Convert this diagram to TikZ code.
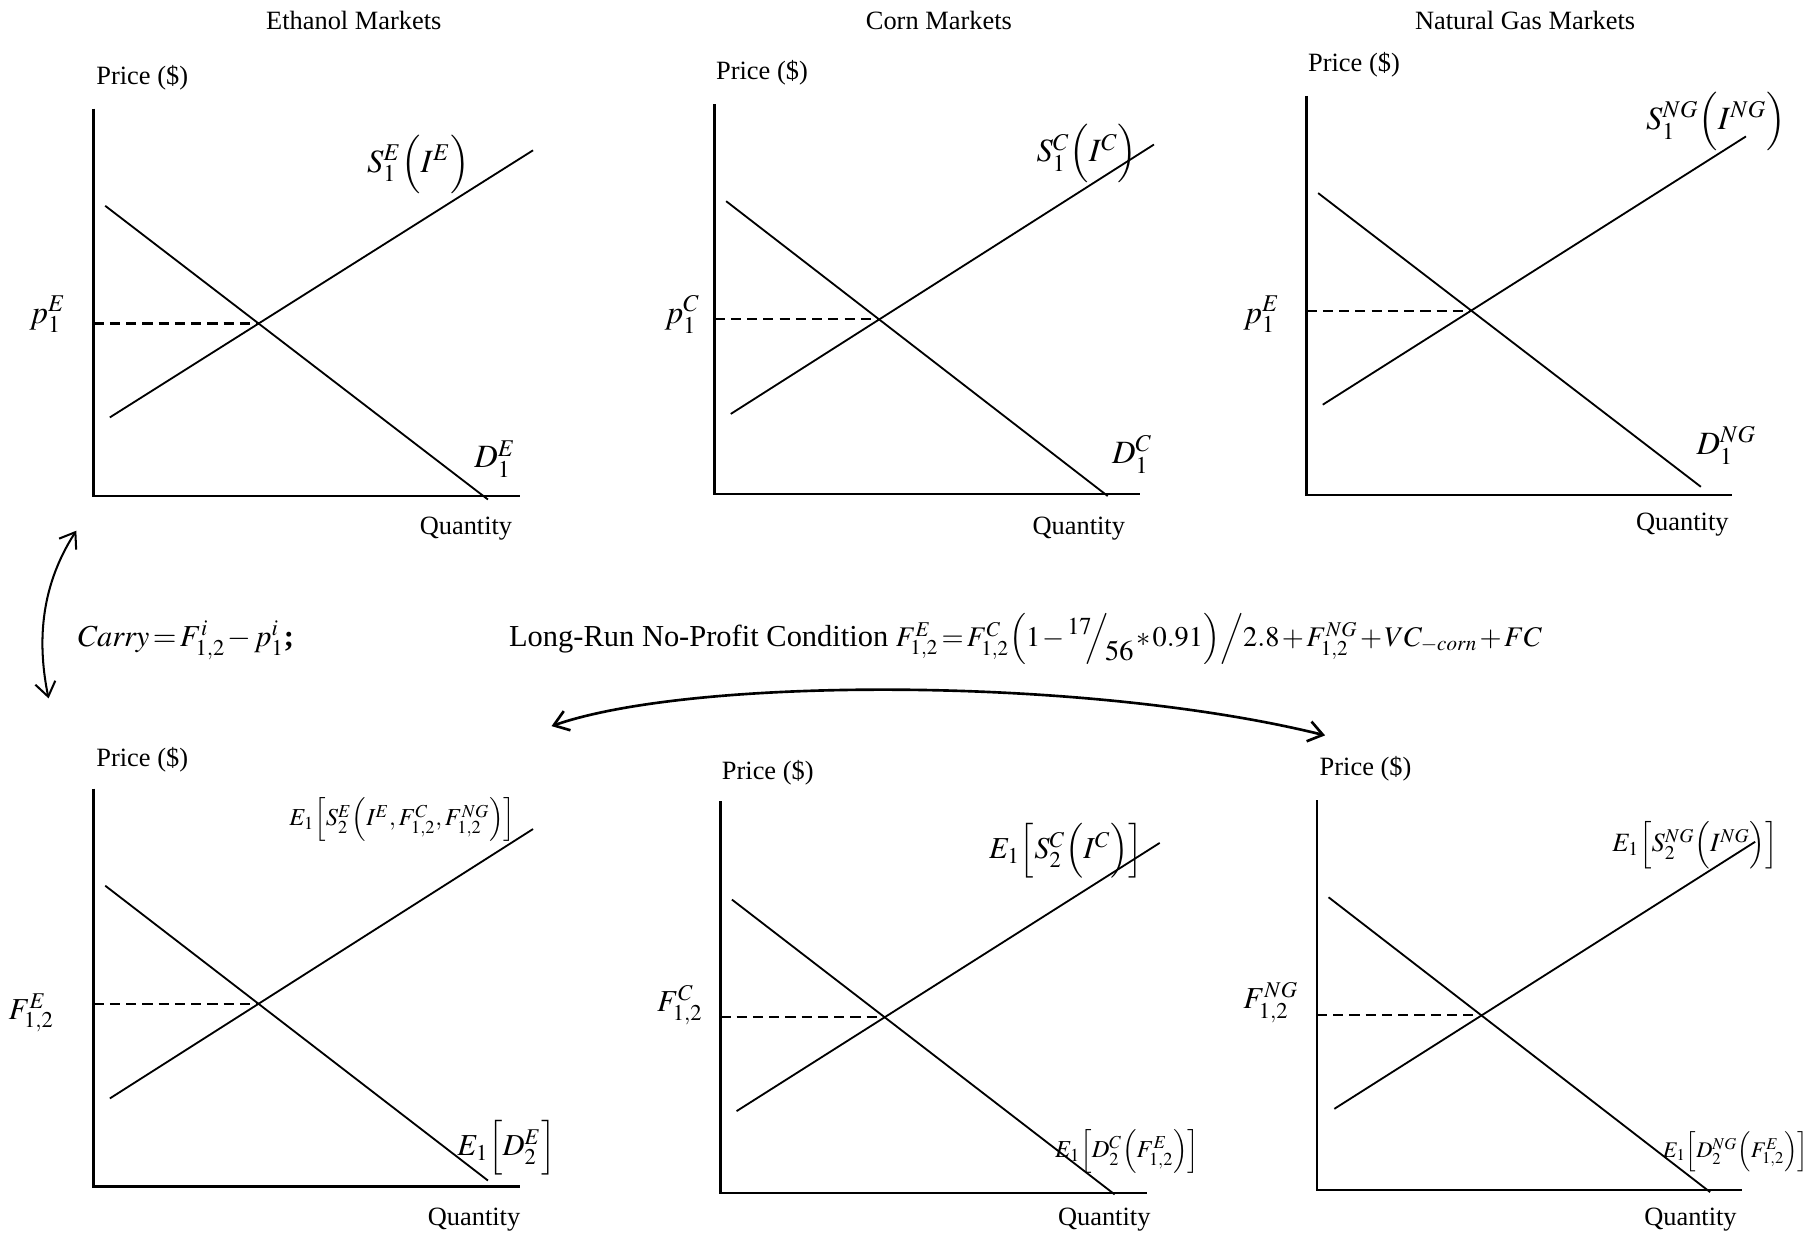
\documentclass[tikz,border=0pt]{standalone}
\usepackage{mathptmx}
\usepackage{fontspec}
\setmainfont{Liberation Serif}
\usetikzlibrary{intersections, arrows.meta}
\newcommand\tightmath{\thickmuskip=2mu\relax\medmuskip=1.5mu\relax}

\begin{document}
\begin{tikzpicture}[x=0.02cm, y=-0.02cm,
  font=\fontsize{13}{15}\selectfont,
  axis/.style={line width=1.2pt},
  curve/.style={line width=0.9pt},
  guide/.style={line width=1pt, dash pattern=on 5pt off 3pt},
  lbl/.style={inner sep=0pt},
  mlbl/.style={inner sep=0pt, font=\fontsize{16}{18}\selectfont},
  small/.style={inner sep=0pt, font=\fontsize{12}{14}\selectfont},
  big/.style={inner sep=0pt, font=\fontsize{15}{18}\selectfont},
  arrow/.style={{Straight Barb[length=7pt, width=10pt]}-{Straight Barb[length=7pt, width=10pt]}, line width=1pt}
]
\useasboundingbox (0,0) rectangle (1568,1071);

\coordinate (o1) at (81,429);
\draw[axis] (81,94) -- (o1) -- (450,429);
\draw[curve, name path=d1] (91,178) -- (422,432);
\draw[curve, name path=s1] (95,361) -- (461,130);
\path[name intersections={of=d1 and s1, by=q1}];
\draw[guide] (o1 |- q1) -- (q1);
\node[lbl] (title1) at (306,18) {Ethanol Markets};
\node[lbl] (price1) at (123,67) {Price (\$)};
\node[lbl] (qty1) at (403,457) {Quantity};
\node[mlbl] (p1) at (41,272) {$p_1^E$};
\node[mlbl] (sup1) at (362,142) {$S_1^E\Big(I^E\Big)$};
\node[mlbl] (dem1) at (428,397) {$D_1^E$};

\coordinate (o2) at (618,427);
\draw[axis] (618,90) -- (o2) -- (986,427);
\draw[curve, name path=d2] (628,174) -- (958,429);
\draw[curve, name path=s2] (632,358) -- (998,125);
\path[name intersections={of=d2 and s2, by=q2}];
\draw[guide] (o2 |- q2) -- (q2);
\node[lbl] (title2) at (812,18) {Corn Markets};
\node[lbl] (price2) at (659,63) {Price (\$)};
\node[lbl] (qty2) at (933,457) {Quantity};
\node[mlbl] (p2) at (590,272) {$p_1^C$};
\node[mlbl] (sup2) at (940,133) {$S_1^C\Big(I^C\Big)$};
\node[mlbl] (dem2) at (979,393) {$D_1^C$};

\coordinate (o3) at (1130,428);
\draw[axis] (1130,83) -- (o3) -- (1498,428);
\draw[curve, name path=d3] (1140,167) -- (1471,421);
\draw[curve, name path=s3] (1144,350) -- (1510,118);
\path[name intersections={of=d3 and s3, by=q3}];
\draw[guide] (o3 |- q3) -- (q3);
\node[lbl] (title3) at (1319,18) {Natural Gas Markets};
\node[lbl] (price3) at (1171,56) {Price (\$)};
\node[lbl] (qty3) at (1455,454) {Quantity};
\node[mlbl] (p3) at (1091,272) {$p_1^E$};
\node[mlbl] (sup3) at (1484,105) {$S_1^{NG}\Big(I^{NG}\Big)$};
\node[mlbl] (dem3) at (1493,385) {$D_1^{NG}$};

\coordinate (carrytop) at (66,459);
\coordinate (carrybot) at (42,604);
\draw[arrow] (carrytop) .. controls (33,510) and (33,560) .. (carrybot);
\node[big, anchor=west] (carry) at (66,554) {$\tightmath\mathit{Carry}=F_{1,2}^i-p_1^i$\textbf{;}};
\node[big] (noprofit) at (887,553) {Long-Run No-Profit Condition {\fontsize{14}{17}\selectfont$\tightmath F_{1,2}^E=F_{1,2}^C\Big(1-\raisebox{0.9ex}{\fontsize{12}{14}\selectfont$17$}\!\!\Big/\!\raisebox{-1.1ex}{$56$}*0.91\Big)\Big/2.8+F_{1,2}^{NG}+VC_{-corn}+FC$}};
\coordinate (arcL) at (477,628);
\coordinate (arcR) at (1146,636);
\draw[arrow, line width=1.3pt] (arcL) .. controls (600,585) and (940,585) .. (arcR);

\coordinate (o4) at (81,1026);
\draw[axis] (81,682) -- (o4) -- (450,1026);
\draw[curve, name path=d4] (91,766) -- (422,1021);
\draw[curve, name path=s4] (95,950) -- (461,717);
\path[name intersections={of=d4 and s4, by=q4}];
\draw[guide] (o4 |- q4) -- (q4);
\node[lbl] (price4) at (123,657) {Price (\$)};
\node[lbl] (qty4) at (410,1055) {Quantity};
\node[big] (f4) at (27,876) {$F_{1,2}^E$};
\node[small] (sup4) at (348,709) {$E_1\Big[S_2^E\Big(I^E,F_{1,2}^C,F_{1,2}^{NG}\Big)\Big]$};
\node[big] (dem4) at (438,993) {$E_1\Big[D_2^E\Big]$};

\coordinate (o5) at (623,1032);
\draw[axis] (623,693) -- (o5) -- (992,1032);
\draw[curve, name path=d5] (633,778) -- (964,1033);
\draw[curve, name path=s5] (637,961) -- (1003,729);
\path[name intersections={of=d5 and s5, by=q5}];
\draw[guide] (o5 |- q5) -- (q5);
\node[lbl] (price5) at (664,668) {Price (\$)};
\node[lbl] (qty5) at (955,1055) {Quantity};
\node[big] (f5) at (588,869) {$F_{1,2}^C$};
\node[big] (sup5) at (922,736) {$E_1\Big[S_2^C\Big(I^C\Big)\Big]$};
\node[small] (dem5) at (975,996) {$E_1\Big[D_2^C\Big(F_{1,2}^E\Big)\Big]$};

\coordinate (o6) at (1139,1029);
\draw[axis] (1139,692) -- (o6) -- (1507,1029);
\draw[curve, name path=d6] (1149,776) -- (1479,1031);
\draw[curve, name path=s6] (1154,959) -- (1518,728);
\path[name intersections={of=d6 and s6, by=q6}];
\draw[guide] (o6 |- q6) -- (q6);
\node[lbl] (price6) at (1181,665) {Price (\$)};
\node[lbl] (qty6) at (1462,1055) {Quantity};
\node[big] (f6) at (1099,867) {$F_{1,2}^{NG}$};
\node[lbl] (sup6) at (1466,731) {$E_1\Big[S_2^{NG}\Big(I^{NG}\Big)\Big]$};
\node[lbl, font=\fontsize{11}{13}\selectfont] (dem6) at (1501,996) {$E_1\Big[D_2^{NG}\Big(F_{1,2}^E\Big)\Big]$};
\end{tikzpicture}
\end{document}
